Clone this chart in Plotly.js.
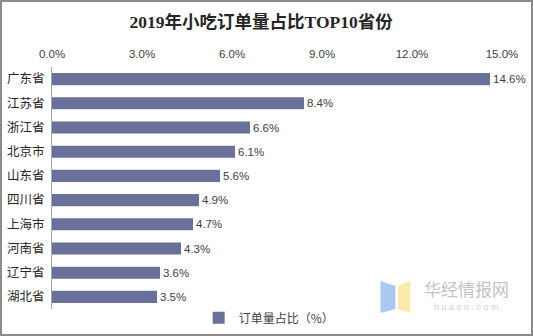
<!DOCTYPE html>
<html><head><meta charset="utf-8">
<script src="https://cdn.plot.ly/plotly-3.0.1.min.js"></script>
<style>
html,body{margin:0;padding:0;background:#fff;}
#wrap{position:relative;width:533px;height:336px;}
#chart{width:533px;height:336px;}
#frame{position:absolute;left:0;top:0;width:533px;height:336px;box-sizing:border-box;border:2px solid #8c8c8c;pointer-events:none;}
</style></head>
<body>
<div id="wrap"><div id="chart"></div><div id="frame"></div></div>
<script>
const provinces = ["广东省","江苏省","浙江省","北京市","山东省","四川省","上海市","河南省","辽宁省","湖北省"];
const shares = [14.6, 8.4, 6.6, 6.1, 5.6, 4.9, 4.7, 4.3, 3.6, 3.5];
const tickValues = [0, 3, 6, 9, 12, 15];
const tickLabels = ["0.0%","3.0%","6.0%","9.0%","12.0%","15.0%"];
const seriesName = "订单量占比（%）";
const titleText = "2019年小吃订单量占比TOP10省份";

const trace = {
  type: 'bar', orientation: 'h',
  x: shares, y: provinces, name: seriesName,
  marker: {color: '#69719b'},
  text: shares.map(v => v.toFixed(1) + '%'),
  textposition: 'outside', cliponaxis: false,
  textfont: {family: 'Liberation Sans, Arial, sans-serif', size: 11.5, color: '#404040'},
  showlegend: true
};

const layout = {
  width: 533, height: 336,
  margin: {l: 52, r: 31, t: 67, b: 27, autoexpand: false},
  paper_bgcolor: '#ffffff', plot_bgcolor: '#ffffff',
  title: {text: '<b>' + titleText + '</b>', x: 0.49, xanchor: 'center', y: 0.935, yanchor: 'middle',
    font: {family: 'Liberation Serif, "Noto Sans CJK SC", serif', size: 17.5, color: '#262626'}},
  bargap: 0.5,
  xaxis: {side: 'top', range: [0, 15], tickvals: tickValues, ticktext: tickLabels,
    showgrid: false, zeroline: false, showline: false, ticks: '',
    ticklabelstandoff: 6, automargin: false,
    tickfont: {family: 'Liberation Sans, Arial, sans-serif', size: 11.5, color: '#404040'}},
  yaxis: {autorange: 'reversed', showline: true, linecolor: '#a6a6a6', linewidth: 1,
    showgrid: false, zeroline: false, ticks: '', ticklabelstandoff: 4, automargin: false,
    tickfont: {family: '"Noto Sans CJK SC", sans-serif', size: 12.5, color: '#262626'}},
  showlegend: true,
  legend: {orientation: 'h', xref: 'container', yref: 'container', x: 0.505, xanchor: 'center',
    y: 0.054, yanchor: 'middle',
    font: {family: '"Noto Sans CJK SC", sans-serif', size: 12, color: '#404040'},
    itemwidth: 30},
  annotations: [
    {xref: 'paper', yref: 'paper', x: 0.92, y: 0.083, xanchor: 'center', yanchor: 'middle',
     text: '华经情报网', showarrow: false,
     font: {family: '"Noto Sans CJK SC", sans-serif', size: 17, color: '#c4c4c4'}},
    {xref: 'paper', yref: 'paper', x: 0.92, y: 0.008, xanchor: 'center', yanchor: 'middle',
     text: 'h u a o n . c o m', showarrow: false,
     font: {family: 'Liberation Sans, sans-serif', size: 9, color: '#d0d0d0'}}
  ],
  shapes: [
    {type: 'path', xref: 'paper', yref: 'paper', path: 'M 0.73 0.116 L 0.763 0.095 L 0.763 -0.0 L 0.73 -0.017 Z',
     fillcolor: '#a9c9f2', line: {width: 0}},
    {type: 'path', xref: 'paper', yref: 'paper', path: 'M 0.769 0.095 L 0.796 0.116 L 0.796 -0.017 L 0.769 -0.0 Z',
     fillcolor: '#fbeaa8', line: {width: 0}}
  ]
};

Plotly.newPlot('chart', [trace], layout, {displayModeBar: false, staticPlot: true});
</script>
</body></html>
